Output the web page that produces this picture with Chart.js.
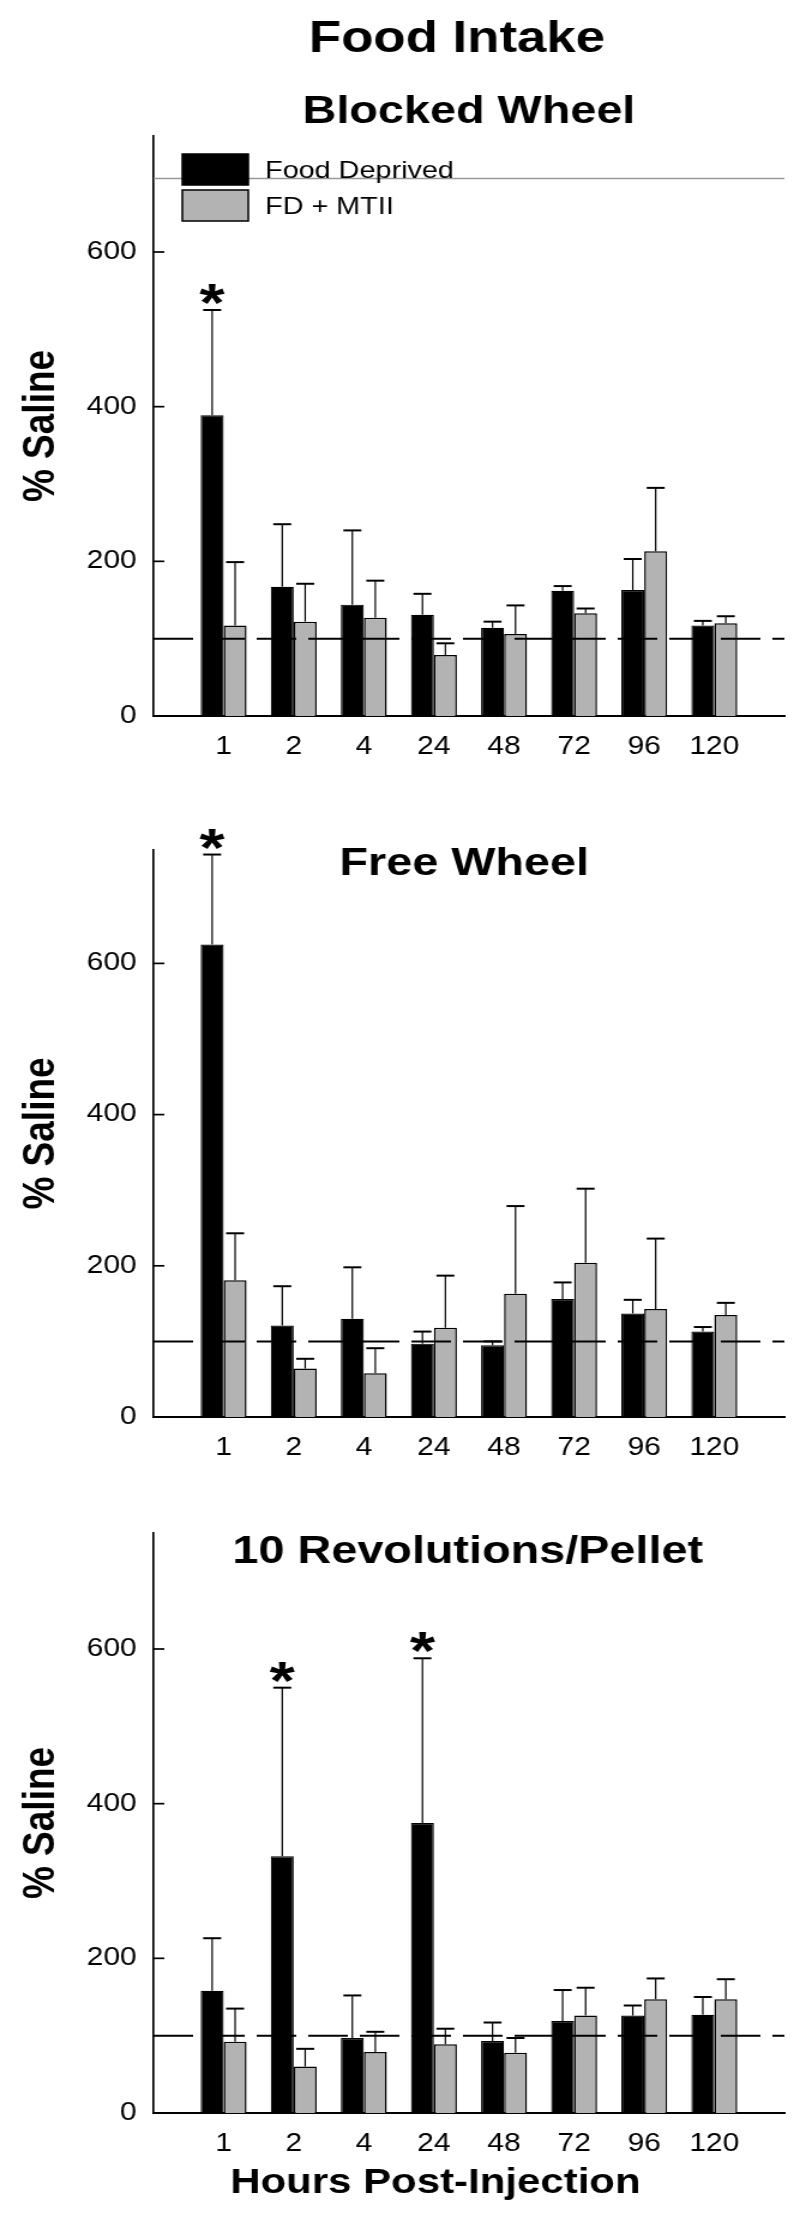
<!DOCTYPE html>
<html>
<head>
<meta charset="utf-8">
<script src="https://cdn.jsdelivr.net/npm/chart.js@4.4.1/dist/chart.umd.min.js"></script>
<style>
  html, body { margin: 0; padding: 0; background: #fff; }
  body { width: 800px; height: 2216px; position: relative; overflow: hidden; }
  canvas { position: absolute; left: 0; }
</style>
</head>
<body>
<!-- canvases are drawn 667 wide and stretched to 800, the reference is stretched the same way -->
<canvas id="c1" width="667" height="780" style="top:0px;width:800px;height:780px"></canvas>
<canvas id="c2" width="667" height="700" style="top:780px;width:800px;height:700px"></canvas>
<canvas id="c3" width="667" height="736" style="top:1480px;width:800px;height:736px"></canvas>
<script>
const hours = ["1", "2", "4", "24", "48", "72", "96", "120"];
const seriesNames = ["Food Deprived", "FD + MTII"];
const yTicks = [0, 200, 400, 600];
const yMax = 750;
const salineLevel = 100;
const topGuide = 695;

// Blocked Wheel
const blockedFD = [389, 167, 144, 131, 114, 162, 163, 117];
const blockedFDErr = [136, 81, 96, 27, 8, 6, 40, 6];
const blockedMT = [117, 122, 127, 79, 106, 133, 213, 120];
const blockedMTErr = [82, 49, 48, 15, 37, 6, 82, 9];
const blockedSig = [1, 0, 0, 0, 0, 0, 0, 0];

// Free Wheel
const freeFD = [625, 121, 130, 97, 95, 156, 137, 113];
const freeFDErr = [119, 52, 68, 16, 5, 22, 18, 6];
const freeMT = [181, 64, 58, 118, 163, 204, 143, 135];
const freeMTErr = [62, 13, 33, 69, 116, 98, 93, 16];
const freeSig = [1, 0, 0, 0, 0, 0, 0, 0];

// 10 Revolutions/Pellet
const revFD = [158, 332, 97, 375, 93, 119, 126, 127];
const revFDErr = [68, 218, 55, 213, 24, 40, 13, 23];
const revMT = [92, 60, 79, 89, 78, 126, 147, 147];
const revMTErr = [43, 23, 26, 20, 19, 36, 27, 26];
const revSig = [0, 1, 0, 1, 0, 0, 0, 0];

const FONT = "'Liberation Sans', Arial, Helvetica, sans-serif";
Chart.defaults.font.family = FONT;
Chart.defaults.color = "#000";

const toPoints = arr => arr.map((v, i) => ({ x: i + 1, y: v }));

// draws error bars, reference lines, asterisks, titles and legend
function overlay(p) {
    return {
        id: "overlay" + p.id,
        afterDatasetsDraw(chart) {
            const ctx = chart.ctx;
            const area = chart.chartArea;
            const ys = chart.scales.y;
            ctx.save();

            // one-sided error bars
            [p.errFD, p.errMT].forEach((err, d) => {
                const meta = chart.getDatasetMeta(d);
                const vals = d === 0 ? p.fd : p.mt;
                meta.data.forEach((bar, i) => {
                    const top = ys.getPixelForValue(vals[i] + err[i]);
                    ctx.strokeStyle = "#000";
                    ctx.lineWidth = 1.2;
                    ctx.beginPath();
                    ctx.moveTo(bar.x, bar.y);
                    ctx.lineTo(bar.x, top);
                    ctx.stroke();
                    ctx.lineWidth = 2;
                    ctx.beginPath();
                    ctx.moveTo(bar.x - 7.5, top);
                    ctx.lineTo(bar.x + 7.5, top);
                    ctx.stroke();
                });
            });

            // dashed 100% line
            const y100 = ys.getPixelForValue(salineLevel);
            ctx.strokeStyle = "#000";
            ctx.lineWidth = 2;
            ctx.setLineDash([33, 10]);
            ctx.beginPath();
            ctx.moveTo(area.left, y100);
            ctx.lineTo(area.right, y100);
            ctx.stroke();
            ctx.setLineDash([]);

            if (p.guide) {
                const yg = ys.getPixelForValue(topGuide);
                ctx.strokeStyle = "#999";
                ctx.lineWidth = 1.5;
                ctx.beginPath();
                ctx.moveTo(area.left, yg);
                ctx.lineTo(area.right, yg);
                ctx.stroke();
            }

            // inward y ticks
            ctx.strokeStyle = "#000";
            ctx.lineWidth = 1.7;
            yTicks.forEach(v => {
                const y = ys.getPixelForValue(v);
                ctx.beginPath();
                ctx.moveTo(area.left, y);
                ctx.lineTo(area.left + 9, y);
                ctx.stroke();
            });

            // significance stars over the Food Deprived bars
            const fdMeta = chart.getDatasetMeta(0);
            ctx.fillStyle = "#000";
            ctx.font = "bold 54px " + FONT;
            ctx.textAlign = "center";
            ctx.textBaseline = "alphabetic";
            p.sig.forEach((s, i) => {
                if (!s) return;
                const top = ys.getPixelForValue(p.fd[i] + p.errFD[i]);
                ctx.fillText("*", fdMeta.data[i].x, top - 20 + 31);
            });
            ctx.restore();
        },
        afterDraw(chart) {
            const ctx = chart.ctx;
            const area = chart.chartArea;
            const mid = (area.left + area.right) / 2;
            ctx.save();
            ctx.fillStyle = "#000";
            ctx.textAlign = "center";
            ctx.textBaseline = "alphabetic";
            p.titles.forEach(t => {
                ctx.font = "bold " + t.size + "px " + FONT;
                ctx.fillText(t.text, mid + t.dx, t.y);
            });

            if (p.legend) {
                ctx.textAlign = "left";
                ctx.textBaseline = "middle";
                ctx.font = "24px " + FONT;
                chart.data.datasets.forEach((ds, d) => {
                    const bx = area.left + 24, by = 154 + d * 36;
                    ctx.fillStyle = ds.backgroundColor;
                    ctx.fillRect(bx, by, 55, 31);
                    ctx.strokeStyle = "#000";
                    ctx.lineWidth = 1.5;
                    ctx.strokeRect(bx, by, 55, 31);
                    ctx.fillStyle = "#000";
                    ctx.fillText(ds.label, bx + 69, by + 17);
                });
            }
            ctx.restore();
        }
    };
}

function makePanel(p) {
    new Chart(document.getElementById(p.id), {
        type: "bar",
        data: {
            datasets: [
                {
                    label: seriesNames[0],
                    data: toPoints(p.fd),
                    backgroundColor: "#000000",
                    borderColor: "#000000",
                    borderWidth: 1.2,
                    categoryPercentage: 0.655,
                    barPercentage: 1
                },
                {
                    label: seriesNames[1],
                    data: toPoints(p.mt),
                    backgroundColor: "#b3b3b3",
                    borderColor: "#000000",
                    borderWidth: 1.5,
                    categoryPercentage: 0.655,
                    barPercentage: 1
                }
            ]
        },
        options: {
            responsive: false,
            animation: false,
            devicePixelRatio: 1,
            events: [],
            layout: { padding: { top: p.padTop, right: 13, bottom: 0, left: 0 } },
            plugins: {
                legend: { display: false },
                tooltip: { enabled: false },
                title: { display: false }
            },
            scales: {
                x: {
                    type: "linear",
                    min: 0,
                    max: 9,
                    offset: false,
                    afterBuildTicks: s => { s.ticks = hours.map((h, i) => ({ value: i + 1 })); },
                    afterFit: s => { s.height = p.xHeight; },
                    grid: { display: false, drawTicks: false, offset: false },
                    border: { display: true, color: "#000", width: 2 },
                    ticks: {
                        color: "#000",
                        padding: 16,
                        autoSkip: false,
                        maxRotation: 0,
                        font: { size: 25 },
                        callback: v => hours[v - 1] || ""
                    }
                },
                y: {
                    min: 0,
                    max: yMax,
                    afterBuildTicks: s => { s.ticks = yTicks.map(v => ({ value: v })); },
                    afterFit: s => { s.width = 128; },
                    grid: { display: false, drawTicks: false },
                    border: { display: true, color: "#000", width: 1.7 },
                    ticks: { color: "#000", padding: 14, font: { size: 25 } },
                    title: {
                        display: true,
                        text: "% Saline",
                        color: "#000",
                        font: { size: 37, weight: "bold" },
                        padding: { top: 13, bottom: 0 }
                    }
                }
            }
        },
        plugins: [overlay(p)]
    });
}

makePanel({
    id: "c1", padTop: 136, xHeight: 64,
    fd: blockedFD, errFD: blockedFDErr, mt: blockedMT, errMT: blockedMTErr, sig: blockedSig,
    guide: true, legend: true,
    titles: [
        { text: "Food Intake", size: 44, y: 52, dx: -10 },
        { text: "Blocked Wheel", size: 39, y: 123, dx: 0 }
    ]
});

makePanel({
    id: "c2", padTop: 70, xHeight: 63,
    fd: freeFD, errFD: freeFDErr, mt: freeMT, errMT: freeMTErr, sig: freeSig,
    titles: [{ text: "Free Wheel", size: 39, y: 95, dx: -4 }]
});

makePanel({
    id: "c3", padTop: 53, xHeight: 103,
    fd: revFD, errFD: revFDErr, mt: revMT, errMT: revMTErr, sig: revSig,
    titles: [
        { text: "10 Revolutions/Pellet", size: 39, y: 83, dx: -1 },
        { text: "Hours Post-Injection", size: 35, y: 713, dx: -28 }
    ]
});
</script>
</body>
</html>
